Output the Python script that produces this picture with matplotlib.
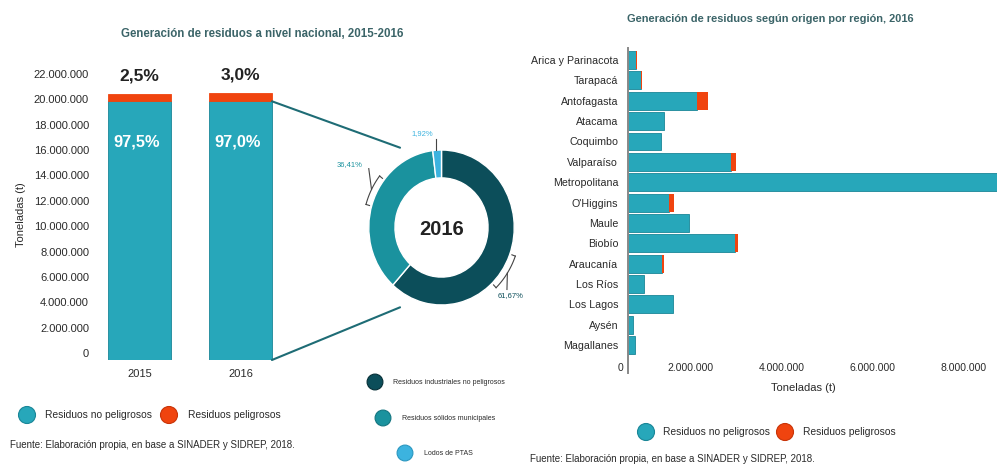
import numpy as np
import matplotlib
matplotlib.use('Agg')
import matplotlib.pyplot as plt
from matplotlib.patches import ConnectionPatch
from matplotlib.ticker import FuncFormatter
from matplotlib.transforms import ScaledTranslation

plt.rcParams['font.family'] = ['Liberation Sans', 'DejaVu Sans']

# generacion nacional (toneladas)
years = ['2015', '2016']
no_pelig = [20.45e6, 20.40e6]
pelig = [0.52e6, 0.63e6]
pct_no_pelig = ['97,5%', '97,0%']
pct_pelig = ['2,5%', '3,0%']

# origen de residuos no peligrosos 2016 (%)
origen = ['Residuos industriales no peligrosos', 'Residuos sólidos municipales', 'Lodos de PTAS']
origen_pct = [61.67, 36.41, 1.92]

# generacion por region 2016 (toneladas)
regiones = ['Arica y Parinacota', 'Tarapacá', 'Antofagasta', 'Atacama', 'Coquimbo',
            'Valparaíso', 'Metropolitana', "O'Higgins", 'Maule', 'Biobío',
            'Araucanía', 'Los Ríos', 'Los Lagos', 'Aysén', 'Magallanes']
reg_no_pelig = [0.17e6, 0.28e6, 1.52e6, 0.79e6, 0.73e6, 2.26e6, 8.60e6, 0.91e6,
                1.33e6, 2.35e6, 0.75e6, 0.36e6, 0.99e6, 0.10e6, 0.15e6]
reg_pelig = [0.02e6, 0.02e6, 0.24e6, 0.0, 0.0, 0.11e6, 0.05e6, 0.10e6,
             0.0, 0.06e6, 0.04e6, 0.0, 0.0, 0.0, 0.0]

TEAL = '#27a7ba'
TEAL_EDGE = '#1a8697'
RED = '#f0440f'
DARK = '#0c4e5a'
MID = '#1a929e'
LIGHT = '#3cb3df'
TITLE_C = '#3b6468'
TXT = '#2a2a2a'

W, H = 997, 465


def px_box(x0, y0, x1, y1):
    return [x0 / W, 1 - y1 / H, (x1 - x0) / W, (y1 - y0) / H]


def miles(v, p):
    return f'{int(v):,}'.replace(',', '.')


fig = plt.figure(figsize=(W / 100, H / 100), dpi=100)

# ---- barras nacionales ----
ax1 = fig.add_axes(px_box(95, 81, 300, 360))
x = np.arange(len(years))
ax1.bar(x, no_pelig, width=0.624, color=TEAL, edgecolor=TEAL_EDGE, linewidth=0.6)
ax1.bar(x, pelig, width=0.624, bottom=no_pelig, color=RED, edgecolor=RED, linewidth=0.6)
ax1.set_ylim(0, 22e6)
ax1.set_xlim(-0.44, 1.59)
ax1.set_yticks(np.arange(0, 22.1e6, 2e6))
ax1.yaxis.set_major_formatter(FuncFormatter(miles))
ax1.set_xticks(x, years)
ax1.tick_params(axis='y', length=0, pad=4.3, labelsize=8, labelcolor=TXT)
ax1.tick_params(axis='x', length=0, pad=6.5, labelsize=8, labelcolor=TXT)
for s in ax1.spines.values():
    s.set_visible(False)
for lab in ax1.get_yticklabels():
    lab.set_transform(lab.get_transform() + ScaledTranslation(0, 0.07, fig.dpi_scale_trans))
ax1.set_ylabel('Toneladas (t)', fontsize=8, color=TXT)
ax1.yaxis.set_label_coords(-0.337, 0.52)

for i in x:
    total = no_pelig[i] + pelig[i]
    ax1.annotate(pct_pelig[i], (x[i], total), xytext=(0, 13), textcoords='offset points',
                 ha='center', va='center', fontsize=12.5, fontweight='bold', color='#222222')
    ax1.annotate(pct_no_pelig[i], (x[i], no_pelig[i]), xytext=(-2, -29.5), textcoords='offset points',
                 ha='center', va='center', fontsize=11.8, fontweight='bold', color='white')

# ---- dona 2016 ----
axd = fig.add_axes(px_box(361.5, 142.5, 521.5, 312.5))
axd.pie(origen_pct, colors=[DARK, MID, LIGHT], startangle=90, counterclock=False,
        radius=1, wedgeprops=dict(width=0.36, edgecolor='white', linewidth=1))
axd.set_aspect('auto')
axd.set_xlim(-1.1, 1.1)
axd.set_ylim(-1.097, 1.097)
axd.text(0, -0.02, '2016', ha='center', va='center', fontsize=14.5, fontweight='bold', color='#222222')

lab_txt = [f'{v:.2f}%'.replace('.', ',') for v in origen_pct]
lab_pos = [(0.95, -0.88), (-1.27, 0.81), (-0.27, 1.21)]
lab_col = [DARK, MID, LIGHT]
for t, (lx, ly), c in zip(lab_txt, lab_pos, lab_col):
    axd.text(lx, ly, t, ha='center', va='center', fontsize=5.5, color=c)


def bracket(a1, a2, tail):
    th = np.radians(np.linspace(a1, a2, 30))
    r = 1.08
    axd.plot(r * np.cos(th), r * np.sin(th), color='#444444', lw=0.8, clip_on=False)
    for a in (a1, a2):
        ar = np.radians(a)
        axd.plot([1.03 * np.cos(ar), r * np.cos(ar)], [1.03 * np.sin(ar), r * np.sin(ar)],
                 color='#444444', lw=0.8, clip_on=False)
    am = np.radians((a1 + a2) / 2)
    axd.plot([r * np.cos(am), tail[0]], [r * np.sin(am), tail[1]], color='#444444', lw=0.8, clip_on=False)


bracket(142, 164, (-1.0, 0.76))
bracket(-20, -46, (0.9, -0.8))
axd.plot([-0.07, -0.07], [1.0, 1.14], color='#444444', lw=0.8, clip_on=False)

con1 = ConnectionPatch(xyA=(1.312, no_pelig[1]), coordsA='data', axesA=ax1,
                       xyB=(-0.57, 1.03), coordsB='data', axesB=axd, color='#1e6c75', lw=1.5)
con2 = ConnectionPatch(xyA=(1.312, 0), coordsA='data', axesA=ax1,
                       xyB=(-0.57, -1.03), coordsB='data', axesB=axd, color='#1e6c75', lw=1.5)
fig.add_artist(con1)
fig.add_artist(con2)

# ---- barras por region ----
ax2 = fig.add_axes(px_box(628, 48, 997, 373))
y = np.arange(len(regiones))
ax2.barh(y, reg_no_pelig, height=0.88, color=TEAL, edgecolor=TEAL_EDGE, linewidth=0.6)
ax2.barh(y, reg_pelig, height=0.88, left=reg_no_pelig, color=RED, edgecolor='none')
ax2.set_ylim(15.37, -0.59)
ax2.set_xlim(0, 8.11e6)
ax2.set_yticks(y, regiones)
ax2.set_xticks(np.arange(0, 8.1e6, 2e6))
ax2.xaxis.set_major_formatter(FuncFormatter(miles))
ax2.tick_params(axis='y', length=0, pad=7, labelsize=7.7, labelcolor=TXT)
ax2.tick_params(axis='x', length=0, pad=-7.5, labelsize=7.5, labelcolor=TXT)
for lab in ax2.get_xticklabels():
    lab.set_ha('right')
    lab.set_transform(lab.get_transform() + ScaledTranslation(-0.05, 0, fig.dpi_scale_trans))
for k in ['top', 'right', 'bottom']:
    ax2.spines[k].set_visible(False)
ax2.spines['left'].set_color('#888888')
ax2.spines['left'].set_linewidth(1.4)
ax2.set_xlabel('Toneladas (t)', fontsize=8, color=TXT)
ax2.xaxis.set_label_coords((803 - 628) / 369, -0.03)

# ---- textos y leyendas ----
ov = fig.add_axes([0, 0, 1, 1])
ov.set_xlim(0, W)
ov.set_ylim(H, 0)
ov.axis('off')

ov.text(262, 34, 'Generación de residuos a nivel nacional, 2015-2016', ha='center', va='center',
        fontsize=8.3, fontweight='bold', color=TITLE_C)
ov.text(770, 19, 'Generación de residuos según origen por región, 2016', ha='center', va='center',
        fontsize=7.9, fontweight='bold', color=TITLE_C)

ov.scatter([27, 169], [415, 415], s=150, c=[TEAL, RED], edgecolors=[TEAL_EDGE, '#c83408'], linewidths=0.8)
ov.text(45, 415, 'Residuos no peligrosos', va='center', fontsize=7.4, color=TXT)
ov.text(188, 415, 'Residuos peligrosos', va='center', fontsize=7.4, color=TXT)
ov.text(10, 445, 'Fuente: Elaboración propia, en base a SINADER y SIDREP, 2018.', va='center',
        fontsize=7, color=TXT)

ov.scatter([646, 785], [432, 432], s=150, c=[TEAL, RED], edgecolors=[TEAL_EDGE, '#c83408'], linewidths=0.8)
ov.text(663, 432, 'Residuos no peligrosos', va='center', fontsize=7.4, color=TXT)
ov.text(803, 432, 'Residuos peligrosos', va='center', fontsize=7.4, color=TXT)
ov.text(530, 459, 'Fuente: Elaboración propia, en base a SINADER y SIDREP, 2018.', va='center',
        fontsize=7, color=TXT)

ov.scatter([375, 383, 405], [382, 418, 453], s=130, c=[DARK, MID, LIGHT],
           edgecolors=['#062f37', '#137580', '#2a97c0'], linewidths=0.8)
ov.text(393, 382, origen[0], va='center', fontsize=5, color=TXT)
ov.text(402, 418, origen[1], va='center', fontsize=5, color=TXT)
ov.text(424, 453, origen[2], va='center', fontsize=5, color=TXT)

fig.savefig('out.png', dpi=100)
